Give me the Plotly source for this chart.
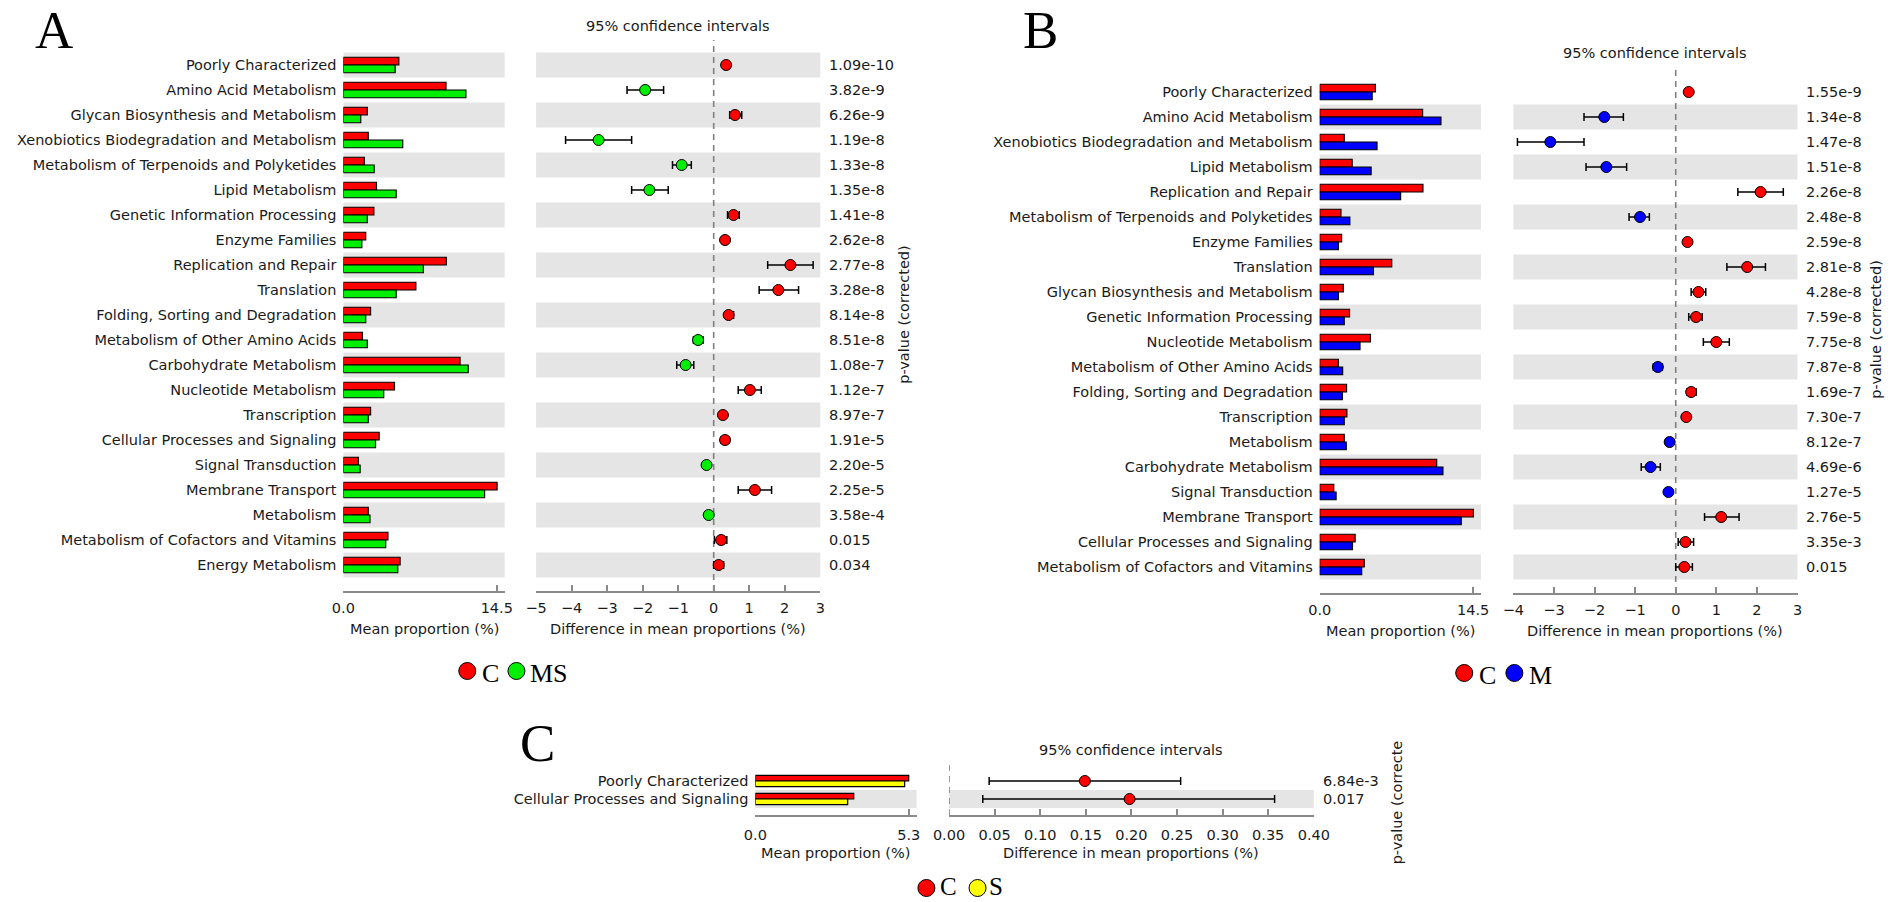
import plotly.graph_objects as go

W, H = 1902, 902

# ---------------- data ----------------
a_features = ["Poorly Characterized", "Amino Acid Metabolism", "Glycan Biosynthesis and Metabolism",
              "Xenobiotics Biodegradation and Metabolism", "Metabolism of Terpenoids and Polyketides",
              "Lipid Metabolism", "Genetic Information Processing", "Enzyme Families",
              "Replication and Repair", "Translation", "Folding, Sorting and Degradation",
              "Metabolism of Other Amino Acids", "Carbohydrate Metabolism", "Nucleotide Metabolism",
              "Transcription", "Cellular Processes and Signaling", "Signal Transduction",
              "Membrane Transport", "Metabolism", "Metabolism of Cofactors and Vitamins",
              "Energy Metabolism"]
a_mean_c = [5.24, 9.70, 2.26, 2.35, 1.98, 3.13, 2.88, 2.11, 9.73, 6.85, 2.57, 1.80, 11.03, 4.83,
            2.57, 3.38, 1.42, 14.53, 2.35, 4.21, 5.36]
a_mean_ms = [4.89, 11.58, 1.64, 5.61, 2.91, 4.99, 2.26, 1.74, 7.56, 4.99, 2.11, 2.26, 11.80, 3.81,
             2.35, 3.04, 1.58, 13.35, 2.51, 4.00, 5.14]
a_diff = [0.35, -1.93, 0.60, -3.24, -0.90, -1.81, 0.56, 0.32, 2.16, 1.82, 0.42, -0.44, -0.79, 1.02,
          0.26, 0.32, -0.20, 1.16, -0.14, 0.21, 0.14]
a_ci_low = [0.28, -2.44, 0.45, -4.17, -1.16, -2.31, 0.39, 0.25, 1.52, 1.28, 0.31, -0.57, -1.04, 0.69,
            0.20, 0.21, -0.26, 0.69, -0.20, 0.02, 0.00]
a_ci_high = [0.42, -1.41, 0.79, -2.31, -0.63, -1.28, 0.72, 0.40, 2.80, 2.39, 0.56, -0.30, -0.56, 1.34,
             0.32, 0.44, -0.14, 1.63, -0.08, 0.37, 0.28]
a_pvals = ["1.09e-10", "3.82e-9", "6.26e-9", "1.19e-8", "1.33e-8", "1.35e-8", "1.41e-8", "2.62e-8",
           "2.77e-8", "3.28e-8", "8.14e-8", "8.51e-8", "1.08e-7", "1.12e-7", "8.97e-7", "1.91e-5",
           "2.20e-5", "2.25e-5", "3.58e-4", "0.015", "0.034"]

b_features = ["Poorly Characterized", "Amino Acid Metabolism", "Xenobiotics Biodegradation and Metabolism",
              "Lipid Metabolism", "Replication and Repair", "Metabolism of Terpenoids and Polyketides",
              "Enzyme Families", "Translation", "Glycan Biosynthesis and Metabolism",
              "Genetic Information Processing", "Nucleotide Metabolism", "Metabolism of Other Amino Acids",
              "Folding, Sorting and Degradation", "Transcription", "Metabolism", "Carbohydrate Metabolism",
              "Signal Transduction", "Membrane Transport", "Cellular Processes and Signaling",
              "Metabolism of Cofactors and Vitamins"]
b_mean_c = [5.27, 9.73, 2.32, 3.07, 9.76, 2.01, 2.07, 6.81, 2.23, 2.82, 4.80, 1.77, 2.54, 2.57, 2.32,
            11.06, 1.33, 14.53, 3.35, 4.21]
b_mean_m = [4.96, 11.46, 5.42, 4.86, 7.65, 2.85, 1.77, 5.08, 1.77, 2.32, 3.81, 2.17, 2.14, 2.32, 2.51,
            11.65, 1.55, 13.38, 3.10, 3.97]
b_diff = [0.32, -1.76, -3.09, -1.71, 2.09, -0.88, 0.29, 1.76, 0.56, 0.50, 1.00, -0.44, 0.38, 0.26,
          -0.15, -0.62, -0.18, 1.12, 0.24, 0.21]
b_ci_low = [0.25, -2.26, -3.90, -2.21, 1.53, -1.15, 0.22, 1.26, 0.38, 0.32, 0.68, -0.55, 0.28, 0.20,
            -0.21, -0.85, -0.24, 0.71, 0.06, 0.00]
b_ci_high = [0.39, -1.29, -2.26, -1.21, 2.65, -0.65, 0.36, 2.21, 0.74, 0.65, 1.32, -0.33, 0.50, 0.32,
             -0.09, -0.38, -0.12, 1.56, 0.44, 0.41]
b_pvals = ["1.55e-9", "1.34e-8", "1.47e-8", "1.51e-8", "2.26e-8", "2.48e-8", "2.59e-8", "2.81e-8",
           "4.28e-8", "7.59e-8", "7.75e-8", "7.87e-8", "1.69e-7", "7.30e-7", "8.12e-7", "4.69e-6",
           "1.27e-5", "2.76e-5", "3.35e-3", "0.015"]

c_features = ["Poorly Characterized", "Cellular Processes and Signaling"]
c_mean_c = [5.30, 3.40]
c_mean_s = [5.16, 3.19]
c_diff = [0.149, 0.198]
c_ci_low = [0.044, 0.037]
c_ci_high = [0.254, 0.357]
c_pvals = ["6.84e-3", "0.017"]

a_bar_ticks = [0.0, 14.5]
a_ci_ticks = [-5, -4, -3, -2, -1, 0, 1, 2, 3]
b_bar_ticks = [0.0, 14.5]
b_ci_ticks = [-4, -3, -2, -1, 0, 1, 2, 3]
c_bar_ticks = [0.0, 5.3]
c_ci_ticks = [0.00, 0.05, 0.10, 0.15, 0.20, 0.25, 0.30, 0.35, 0.40]

# ---------------- styling ----------------
RED, GREEN, BLUE, YELLOW = "#ff0000", "#00ee00", "#0000ff", "#ffff00"
BAND = "#e5e5e5"
AXC = "#8a8a8a"
TXT = "#1a1a1a"
SANS = "DejaVu Sans"
SERIF = "Liberation Serif"
FS = 14.5


def fx(p):
    return p / W


def fy(p):
    return 1 - p / H


def fmt_minus(v, nd):
    s = f"{v:.{nd}f}" if nd else f"{v:g}"
    return s.replace("-", "\u2212")


fig = go.Figure()
layout = {}
shapes = []
annos = []

panels = [
    dict(letter="A", letter_xy=(39, 30), feats=a_features, m1=a_mean_c, m2=a_mean_ms,
         c2=GREEN, diff=a_diff, lo=a_ci_low, hi=a_ci_high, pv=a_pvals,
         row0=65, step=25, top=40, bottom=591, barx=(333, 497), cix=(529, 818),
         bar_range=[0, 14.5 * 164 / 156], bar_ticks=a_bar_ticks, bar_nd=1,
         ci_range=[-5, 3], ci_ticks=a_ci_ticks, ci_nd=0, title_y=26, tick_standoff=3,
         pval_x=825, plab=(903, "p-value (corrected)"),
         legend=[(459, RED, "C", 483), (509, GREEN, "MS", 542)], legend_y=671),
    dict(letter="B", letter_xy=(1042, 30), feats=b_features, m1=b_mean_c, m2=b_mean_m,
         c2=BLUE, diff=b_diff, lo=b_ci_low, hi=b_ci_high, pv=b_pvals,
         row0=92, step=25, top=67, bottom=593, barx=(1326, 1490), cix=(1523, 1812),
         bar_range=[0, 14.5 * 164 / 156], bar_ticks=b_bar_ticks, bar_nd=1,
         ci_range=[-4, 3], ci_ticks=b_ci_ticks, ci_nd=0, title_y=53, tick_standoff=3,
         pval_x=1819, plab=(1892, "p-value (corrected)"),
         legend=[(1473, RED, "C", 1497), (1524, BLUE, "M", 1551)], legend_y=673),
    dict(letter="C", letter_xy=(530, 743), feats=c_features, m1=c_mean_c, m2=c_mean_s,
         c2=YELLOW, diff=c_diff, lo=c_ci_low, hi=c_ci_high, pv=c_pvals,
         row0=781, step=18, top=765, bottom=815, barx=(752, 916), cix=(949, 1320),
         bar_range=[0, 5.3 * 164 / 156], bar_ticks=c_bar_ticks, bar_nd=1,
         ci_range=[0, 0.40], ci_ticks=c_ci_ticks, ci_nd=2, title_y=750, tick_standoff=6,
         pval_x=1327, plab=(1405, "p-value (correcte"),
         legend=[(926, RED, "C", 948), (978, YELLOW, "S", 997)], legend_y=888),
]

BW = 0.31

for k, p in enumerate(panels):
    nb, nc = 2 * k + 1, 2 * k + 2
    sb = "" if nb == 1 else str(nb)
    sc = str(nc)
    feats = p["feats"]
    n = len(feats)
    y_lo = (p["bottom"] - p["row0"]) / p["step"]
    y_hi = (p["top"] - p["row0"]) / p["step"]
    ydom = [fy(p["bottom"]), fy(p["top"])]

    # bars
    fig.add_trace(go.Bar(x=p["m1"], y=feats, orientation="h", offset=-BW, width=BW,
                         marker=dict(color=RED, line=dict(color="black", width=1.2)),
                         xaxis="x" + sb, yaxis="y" + sb, showlegend=False, hoverinfo="x+y"))
    fig.add_trace(go.Bar(x=p["m2"], y=feats, orientation="h", offset=0, width=BW,
                         marker=dict(color=p["c2"], line=dict(color="black", width=1.2)),
                         xaxis="x" + sb, yaxis="y" + sb, showlegend=False, hoverinfo="x+y"))
    # CI
    cols = [RED if d > 0 else p["c2"] for d in p["diff"]]
    fig.add_trace(go.Scatter(x=p["diff"], y=feats, mode="markers",
                             marker=dict(size=11, color=cols, line=dict(color="black", width=1)),
                             error_x=dict(type="data", symmetric=False,
                                          array=[h - d for h, d in zip(p["hi"], p["diff"])],
                                          arrayminus=[d - l for d, l in zip(p["diff"], p["lo"])],
                                          color="black", thickness=1.5, width=4),
                             xaxis="x" + sc, yaxis="y" + sc, showlegend=False))

    tf = dict(size=FS, color=TXT, family=SANS)
    layout["xaxis" + sb] = dict(domain=[fx(p["barx"][0]), fx(p["barx"][1])], range=p["bar_range"],
                                anchor="y" + sb, showline=True, linecolor=AXC, linewidth=1.5,
                                ticks="inside", ticklen=6, tickwidth=1.5, tickcolor=AXC,
                                tickvals=p["bar_ticks"],
                                ticktext=[f"{v:.{p['bar_nd']}f}" for v in p["bar_ticks"]],
                                showgrid=False, zeroline=False, tickfont=tf,
                                ticklabelstandoff=p["tick_standoff"], fixedrange=True)
    layout["yaxis" + sb] = dict(domain=ydom, anchor="x" + sb, type="category", categoryorder="array",
                                categoryarray=feats, range=[y_lo, y_hi], showgrid=False, zeroline=False,
                                showline=False, ticks="", tickfont=tf, ticklabelstandoff=6,
                                fixedrange=True)
    layout["xaxis" + sc] = dict(domain=[fx(p["cix"][0]), fx(p["cix"][1])], range=p["ci_range"],
                                anchor="y" + sc, showline=True, linecolor=AXC, linewidth=1.5,
                                ticks="inside", ticklen=6, tickwidth=1.5, tickcolor=AXC,
                                tickvals=p["ci_ticks"],
                                ticktext=[fmt_minus(v, p["ci_nd"]) for v in p["ci_ticks"]],
                                showgrid=False, zeroline=False, tickfont=tf,
                                ticklabelstandoff=p["tick_standoff"], fixedrange=True)
    layout["yaxis" + sc] = dict(domain=ydom, anchor="x" + sc, type="category", categoryorder="array",
                                categoryarray=feats, range=[y_lo, y_hi], showgrid=False, zeroline=False,
                                showline=False, showticklabels=False, ticks="", fixedrange=True)

    # alternating background bands
    for i in range(n):
        if (n - 1 - i) % 2 == 0:
            for s in (sb, sc):
                shapes.append(dict(type="rect", xref=f"x{s} domain", yref=f"y{s}", x0=0, x1=1,
                                   y0=i - 0.5, y1=i + 0.5, fillcolor=BAND, line=dict(width=0),
                                   layer="below"))
    # dashed zero line
    shapes.append(dict(type="line", xref="x" + sc, yref=f"y{sc} domain", x0=0, x1=0, y0=0, y1=1,
                       line=dict(color="#808080", width=1.6, dash="6px,5px"), layer="below"))

    # p-values
    for f, v in zip(feats, p["pv"]):
        annos.append(dict(text=v, xref="paper", yref="y" + sc, x=fx(p["pval_x"]), y=f,
                          xanchor="left", yanchor="middle", showarrow=False, font=tf))
    mid_row = p["row0"] + p["step"] * (n - 1) / 2
    annos.append(dict(text=p["plab"][1], xref="paper", yref="paper", x=fx(p["plab"][0]),
                      y=fy(mid_row + (12 if k == 2 else 0)), textangle=-90, showarrow=False, font=tf,
                      xanchor="center", yanchor="middle"))
    # titles
    annos.append(dict(text="95% confidence intervals", xref="paper", yref="paper",
                      x=fx((p["cix"][0] + p["cix"][1]) / 2), y=fy(p["title_y"]), showarrow=False,
                      font=tf, xanchor="center", yanchor="middle"))
    annos.append(dict(text="Mean proportion (%)", xref="paper", yref="paper",
                      x=fx((p["barx"][0] + p["barx"][1]) / 2), y=fy(p["bottom"] + 38), showarrow=False,
                      font=tf, xanchor="center", yanchor="middle"))
    annos.append(dict(text="Difference in mean proportions (%)", xref="paper", yref="paper",
                      x=fx((p["cix"][0] + p["cix"][1]) / 2), y=fy(p["bottom"] + 38), showarrow=False,
                      font=tf, xanchor="center", yanchor="middle"))
    # panel letter
    annos.append(dict(text=p["letter"], xref="paper", yref="paper", x=fx(p["letter_xy"][0]),
                      y=fy(p["letter_xy"][1]), showarrow=False,
                      font=dict(size=53, color="black", family=SERIF), xanchor="center", yanchor="middle"))
    # legend
    for cx, col, lab, tx in p["legend"]:
        shapes.append(dict(type="circle", xref="paper", yref="paper", xsizemode="pixel", ysizemode="pixel",
                           xanchor=fx(cx), yanchor=fy(p["legend_y"]), x0=-8.5, x1=8.5, y0=-8.5, y1=8.5,
                           fillcolor=col, line=dict(color="black", width=1)))
        if k == 2:
            annos.append(dict(text=lab, xref="paper", yref="paper", x=fx(tx), y=fy(901),
                              showarrow=False, font=dict(size=25, color="black", family=SERIF),
                              xanchor="center", yanchor="bottom", borderpad=0))
        else:
            annos.append(dict(text=lab, xref="paper", yref="paper", x=fx(tx), y=fy(p["legend_y"] + 2),
                              showarrow=False, font=dict(size=26, color="black", family=SERIF),
                              xanchor="center", yanchor="middle"))

fig.update_layout(**layout)
fig.update_layout(width=W, height=H, margin=dict(l=0, r=0, t=0, b=0), paper_bgcolor="white",
                  plot_bgcolor="rgba(0,0,0,0)", barmode="overlay", shapes=shapes, annotations=annos,
                  font=dict(family=SANS, size=FS, color=TXT), hovermode=False)

fig.write_html("out.html", config={"displayModeBar": False},
               post_script="document.body.style.margin='0px';")
